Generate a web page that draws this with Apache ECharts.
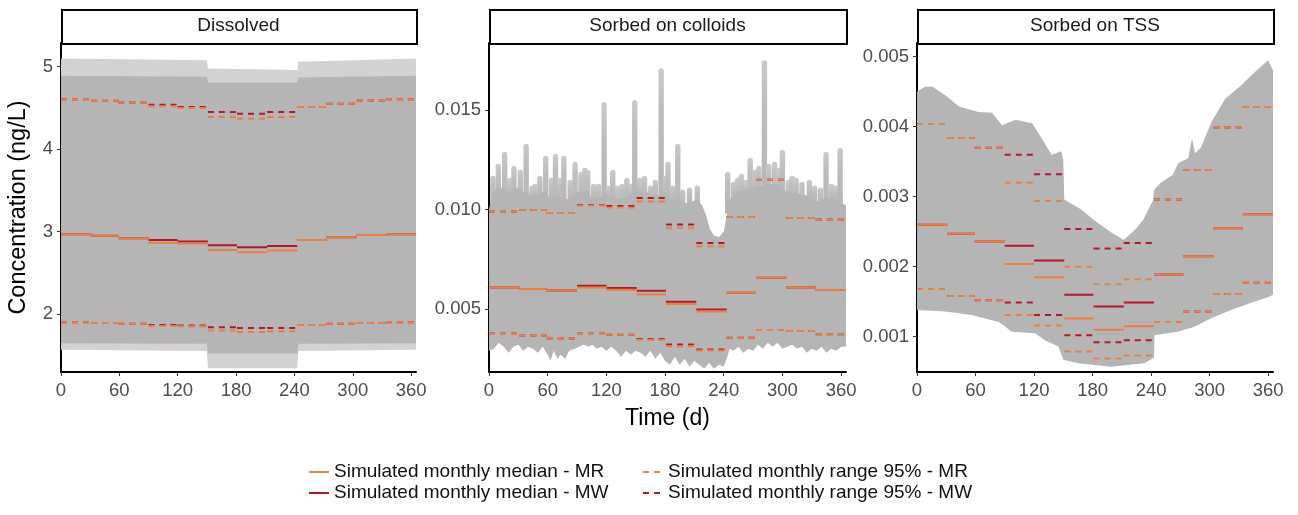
<!DOCTYPE html>
<html>
<head>
<meta charset="utf-8">
<script src="https://cdn.jsdelivr.net/npm/echarts@6/dist/echarts.min.js"></script>
<style>
html,body{margin:0;padding:0;background:#fff;}
#chart{width:1298px;height:515px;}
</style>
</head>
<body>
<div id="chart"></div>
<script>
// ---------- DATA ----------
const panelTitles = ['Dissolved', 'Sorbed on colloids', 'Sorbed on TSS'];
const monthEdges = [0, 31, 59, 90, 120, 151, 181, 212, 243, 273, 304, 334, 365];
const timeTicks = [0, 60, 120, 180, 240, 300, 360];
const disTicks = [2, 3, 4, 5];
const colTicks = [0.005, 0.010, 0.015];
const tssTicks = [0.001, 0.002, 0.003, 0.004, 0.005];

// Dissolved monthly statistics
const disMedMR = [2.967, 2.950, 2.920, 2.865, 2.855, 2.776, 2.750, 2.770, 2.898, 2.930, 2.958, 2.967];
const disMedMW = [2.967, 2.950, 2.920, 2.898, 2.880, 2.833, 2.810, 2.825, 2.898, 2.930, 2.958, 2.967];
const disHiMR = [4.604, 4.588, 4.565, 4.520, 4.500, 4.390, 4.370, 4.390, 4.510, 4.550, 4.590, 4.604];
const disHiMW = [4.604, 4.588, 4.565, 4.540, 4.510, 4.452, 4.430, 4.450, 4.510, 4.550, 4.590, 4.604];
const disLoMR = [1.899, 1.890, 1.880, 1.855, 1.850, 1.800, 1.780, 1.790, 1.866, 1.880, 1.890, 1.900];
const disLoMW = [1.899, 1.890, 1.880, 1.866, 1.860, 1.838, 1.830, 1.830, 1.866, 1.880, 1.890, 1.900];

// Colloid-sorbed monthly statistics
const colMedMR = [0.00608, 0.00600, 0.00593, 0.00608, 0.00597, 0.00573, 0.00525, 0.00488, 0.00582, 0.00657, 0.00608, 0.00595];
const colMedMW = [0.00608, 0.00600, 0.00593, 0.00617, 0.00605, 0.00592, 0.00537, 0.00498, 0.00582, 0.00657, 0.00608, 0.00595];
const colHiMR = [0.00990, 0.00998, 0.00983, 0.01020, 0.01010, 0.01040, 0.00908, 0.00815, 0.00962, 0.01150, 0.00957, 0.00950];
const colHiMW = [0.00990, 0.00998, 0.00983, 0.01022, 0.01017, 0.01058, 0.00925, 0.00832, 0.00962, 0.01150, 0.00957, 0.00950];
const colLoMR = [0.00378, 0.00367, 0.00352, 0.00378, 0.00370, 0.00345, 0.00313, 0.00292, 0.00355, 0.00395, 0.00390, 0.00373];
const colLoMW = [0.00378, 0.00367, 0.00352, 0.00378, 0.00370, 0.00349, 0.00322, 0.00297, 0.00355, 0.00395, 0.00390, 0.00373];

// TSS-sorbed monthly statistics
const tssMedMR = [0.00260, 0.00247, 0.00236, 0.00204, 0.00185, 0.00126, 0.00110, 0.00115, 0.00189, 0.00215, 0.00255, 0.00275];
const tssMedMW = [0.00260, 0.00247, 0.00236, 0.00230, 0.00209, 0.00160, 0.00143, 0.00149, 0.00189, 0.00215, 0.00255, 0.00275];
const tssHiMR = [0.00404, 0.00384, 0.00370, 0.00320, 0.00294, 0.00200, 0.00175, 0.00182, 0.00296, 0.00338, 0.00399, 0.00428];
const tssHiMW = [0.00404, 0.00384, 0.00370, 0.00360, 0.00332, 0.00254, 0.00226, 0.00234, 0.00296, 0.00338, 0.00399, 0.00428];
const tssLoMR = [0.00168, 0.00158, 0.00152, 0.00131, 0.00116, 0.00079, 0.00069, 0.00073, 0.00121, 0.00136, 0.00161, 0.00177];
const tssLoMW = [0.00168, 0.00158, 0.00152, 0.00149, 0.00131, 0.00102, 0.00092, 0.00095, 0.00121, 0.00136, 0.00161, 0.00177];

// Envelopes of all simulated daily series [day, value]
const disOuterUp = [[0, 5.10], [150, 5.08], [151, 4.98], [243, 4.96], [244, 5.06], [365, 5.10]];
const disOuterLo = [[0, 1.565], [150, 1.55], [151, 1.34], [243, 1.34], [244, 1.55], [365, 1.565]];
const disInnerUp = [[0, 4.89], [150, 4.88], [151, 4.81], [243, 4.81], [244, 4.87], [365, 4.89]];
const disInnerLo = [[0, 1.645], [150, 1.64], [151, 1.52], [243, 1.52], [244, 1.64], [365, 1.645]];

const colUp = [[0,0.0100],[3,0.0107],[6,0.0110],[12,0.0111],[20,0.0109],[28,0.0111],[35,0.0109],[42,0.0107],
  [50,0.0108],[56,0.0109],[62,0.0106],[70,0.0107],[80,0.0105],[86,0.0107],[92,0.0109],[100,0.0110],[106,0.0105],
  [112,0.0106],[120,0.0107],[130,0.0105],[138,0.0106],[146,0.0108],[152,0.0109],[160,0.0109],[168,0.0107],
  [178,0.0108],[186,0.0105],[196,0.0104],[204,0.0103],[212,0.0105],[218,0.0102],[222,0.0097],[226,0.0090],
  [230,0.0087],[235,0.0086],[240,0.0089],[243,0.0097],[246,0.0105],[255,0.0109],[262,0.0110],[270,0.0111],
  [278,0.0112],[288,0.0113],[296,0.0112],[304,0.0109],[315,0.0108],[325,0.0107],[335,0.0104],[345,0.0106],
  [355,0.0105],[365,0.0102]];
const colSpikes = [[4,0.0117],[9.5,0.0123],[16,0.0129],[21,0.0116],[25.5,0.0122],[32,0.0120],[38,0.0133],[44,0.0112],[47,0.0113],
  [52,0.0117],[58,0.0127],[64,0.0116],[68,0.0128],[72,0.0116],[76.5,0.0127],[83,0.0115],[88,0.0124],[94,0.0119],
  [98,0.0121],[101,0.0120],[107,0.0113],[112,0.0113],[117.7,0.0154],[122,0.0112],[126.5,0.0120],[131,0.0112],[136,0.0113],[141,0.0116],
  [145,0.0113],[149,0.0155],[154,0.0116],[159,0.0117],[165,0.0112],[170,0.0115],[176,0.0171],[180,0.0117],[183,0.0124],
  [188,0.0112],[193,0.0133],[198,0.0110],[205,0.0111],[213,0.0112],[244,0.0119],[250,0.0114],[254,0.0116],[258,0.0118],
  [263,0.0115],[267,0.0126],[272,0.0120],[276,0.0122],[281.6,0.0175],[286,0.0123],[292,0.0124],[296,0.0121],[300,0.0130],
  [306,0.0115],[310,0.0117],[314,0.0116],[320,0.0114],[327.5,0.0115],[333,0.0112],[339,0.0111],[344.6,0.0129],[350,0.0113],
  [354,0.0112],[359,0.0131]];
const colLo = [[0,0.0029],[5,0.0030],[10,0.0033],[15,0.0031],[20,0.0028],[25,0.0031],[30,0.0032],[35,0.0029],
  [40,0.0031],[45,0.0030],[50,0.0028],[55,0.0031],[60,0.0027],[63,0.0024],[66,0.0029],[70,0.0025],[73,0.0027],
  [78,0.0025],[82,0.0029],[88,0.0030],[92,0.0031],[97,0.0032],[102,0.0031],[106,0.0032],[110,0.0030],[115,0.0031],
  [120,0.0029],[125,0.0031],[130,0.0029],[135,0.0026],[140,0.0029],[145,0.0027],[150,0.0029],[155,0.0028],
  [160,0.0026],[165,0.0029],[170,0.0025],[175,0.0028],[180,0.0024],[185,0.0022],[190,0.0026],[195,0.0022],
  [200,0.0025],[205,0.0021],[210,0.0024],[215,0.0022],[220,0.0020],[225,0.0023],[230,0.0020],[235,0.0022],
  [240,0.0021],[243,0.0025],[246,0.0030],[250,0.0029],[255,0.0031],[260,0.0028],[265,0.0030],[270,0.0029],
  [275,0.0032],[280,0.0030],[285,0.0033],[290,0.0031],[295,0.0033],[300,0.0030],[305,0.0031],[310,0.0032],
  [315,0.0030],[320,0.0031],[325,0.0028],[330,0.0030],[335,0.0029],[340,0.0031],[345,0.0028],[350,0.0030],
  [355,0.0029],[360,0.0031],[365,0.0031]];

const tssUp = [[0,0.00450],[8,0.00457],[16,0.00457],[29,0.00445],[43,0.00429],[63,0.00421],[77,0.00420],[87,0.00402],
  [101,0.00410],[118,0.00405],[128,0.00383],[138,0.00360],[148,0.00365],[150,0.00352],[151,0.00296],[168,0.00282],
  [181,0.00267],[200,0.00248],[212,0.00238],[225,0.00255],[232,0.00267],[242,0.00295],[243,0.00310],[250,0.00320],
  [262,0.00331],[268,0.00348],[278,0.00355],[282,0.00383],[285,0.00362],[291,0.00370],[302,0.00407],[316,0.00440],
  [333,0.00460],[347,0.00479],[360,0.00495],[365,0.00480]];
const tssLo = [[0,0.00138],[29,0.00136],[56,0.00131],[84,0.00121],[91,0.00114],[97,0.00107],[121,0.00105],[131,0.00095],
  [145,0.00086],[150,0.00067],[165,0.00062],[199,0.00057],[233,0.00062],[243,0.00070],[243.5,0.00102],[267,0.00107],
  [284,0.00114],[301,0.00126],[322,0.00138],[342,0.00148],[361,0.00157],[365,0.00160]];

// ---------- STYLE / BUILD ----------
const FONT = '"Liberation Sans", Arial, sans-serif';
const C_MR = '#E8803F', C_MW = '#B2182B';
const GRAY = '#b5b5b5', GRAY_LIGHT = '#d2d2d2';
const N_MED_MR = 'Simulated monthly median - MR';
const N_MED_MW = 'Simulated monthly median - MW';
const N_RNG_MR = 'Simulated monthly range 95% - MR';
const N_RNG_MW = 'Simulated monthly range 95% - MW';

const grids = [
  {left: 61, top: 43, width: 355, height: 329},
  {left: 489, top: 43, width: 357, height: 329},
  {left: 917, top: 43, width: 356, height: 329}
];
const yRanges = [[1.296, 5.288], [0.001834, 0.018367], [0.000496, 0.005196]];
const yTicks = [disTicks, colTicks, tssTicks];
const yFmt = [v => String(v), v => v.toFixed(3), v => v.toFixed(3)];

function segData(vals) {
  const d = [];
  for (let m = 0; m < 12; m++) {
    d.push([monthEdges[m], vals[m]]);
    d.push([monthEdges[m + 1], vals[m]]);
    d.push([monthEdges[m + 1], '-']);
  }
  return d;
}
function segSeries(idx, name, vals, color, dashed) {
  return {
    type: 'line', name: name, xAxisIndex: idx, yAxisIndex: idx, data: segData(vals),
    symbol: 'none', silent: true, animation: false, connectNulls: false, z: 3,
    lineStyle: {color: color, width: 2, type: dashed ? [6, 5] : 'solid'},
    itemStyle: {color: color}
  };
}
function bandSeries(idx, upper, lower, color, z) {
  return {
    type: 'custom', xAxisIndex: idx, yAxisIndex: idx, silent: true, animation: false, z: z, clip: true,
    data: [[upper[0][0], upper[0][1]]],
    renderItem: function (params, api) {
      const pts = upper.concat(lower.slice().reverse()).map(p => api.coord(p));
      return {type: 'polygon', shape: {points: pts}, style: {fill: color}};
    }
  };
}
function spikeSeries(idx, spikes, baseVal) {
  return {
    type: 'custom', xAxisIndex: idx, yAxisIndex: idx, silent: true, animation: false, z: 1, clip: true,
    data: spikes,
    renderItem: function (params, api) {
      const top = api.coord([api.value(0), api.value(1)]);
      const bot = api.coord([api.value(0), baseVal]);
      const w = Math.max(4, api.size([5.5, 0])[0]);
      return {
        type: 'rect',
        shape: {x: top[0] - w / 2, y: top[1], width: w, height: bot[1] - top[1], r: [w / 2, w / 2, 0, 0]},
        style: {fill: new echarts.graphic.LinearGradient(0, 0, 0, 1, [
          {offset: 0, color: '#cacaca'}, {offset: 0.3, color: '#bdbdbd'}, {offset: 1, color: GRAY}])}
      };
    }
  };
}

const xAxes = grids.map((g, i) => ({
  type: 'value', gridIndex: i, min: 0, max: 365,
  name: i === 1 ? 'Time (d)' : '', nameLocation: 'middle', nameGap: 35,
  nameTextStyle: {fontSize: 23, color: '#000', fontFamily: FONT},
  axisLine: {show: true, onZero: false, lineStyle: {color: '#000', width: 2}},
  axisTick: {show: true, length: 4, customValues: timeTicks, lineStyle: {color: '#333', width: 1}},
  axisLabel: {customValues: timeTicks, fontSize: 18.5, color: '#4d4d4d', fontFamily: FONT, margin: 9},
  splitLine: {show: false}
}));
const yAxes = grids.map((g, i) => ({
  type: 'value', gridIndex: i, min: yRanges[i][0], max: yRanges[i][1],
  name: i === 0 ? 'Concentration (ng/L)' : '', nameLocation: 'middle', nameGap: 30,
  nameTextStyle: {fontSize: 23.5, color: '#000', fontFamily: FONT},
  axisLine: {show: true, onZero: false, lineStyle: {color: '#000', width: 2}},
  axisTick: {show: true, length: 4, customValues: yTicks[i], lineStyle: {color: '#333', width: 1}},
  axisLabel: {customValues: yTicks[i], formatter: yFmt[i], fontSize: 18.5, color: '#4d4d4d', fontFamily: FONT, margin: 8},
  splitLine: {show: false}
}));

const stats = [
  [disMedMR, disMedMW, disHiMR, disHiMW, disLoMR, disLoMW],
  [colMedMR, colMedMW, colHiMR, colHiMW, colLoMR, colLoMW],
  [tssMedMR, tssMedMW, tssHiMR, tssHiMW, tssLoMR, tssLoMW]
];

const series = [
  bandSeries(0, disOuterUp, disOuterLo, GRAY_LIGHT, 1),
  bandSeries(0, disInnerUp, disInnerLo, GRAY, 1),
  spikeSeries(1, colSpikes, 0.0098),
  bandSeries(1, colUp, colLo, GRAY, 1),
  bandSeries(2, tssUp, tssLo, GRAY, 1)
];
stats.forEach((s, i) => {
  series.push(segSeries(i, N_MED_MW, s[1], C_MW, false));
  series.push(segSeries(i, N_RNG_MW, s[3], C_MW, true));
  series.push(segSeries(i, N_RNG_MW, s[5], C_MW, true));
  series.push(segSeries(i, N_MED_MR, s[0], C_MR, false));
  series.push(segSeries(i, N_RNG_MR, s[2], C_MR, true));
  series.push(segSeries(i, N_RNG_MR, s[4], C_MR, true));
});

const graphics = [];
grids.forEach((g, i) => {
  graphics.push({type: 'rect', left: g.left, top: 9, z: 10,
    shape: {width: g.width, height: 34},
    style: {fill: '#fff', stroke: '#000', lineWidth: 2}});
  graphics.push({type: 'text', x: g.left + g.width / 2, y: 26, z: 11,
    style: {text: panelTitles[i], fill: '#1a1a1a', font: '19px ' + FONT, textAlign: 'center', textVerticalAlign: 'middle'}});
});

const legendCommon = {
  orient: 'vertical', itemWidth: 20, itemHeight: 10, itemGap: 0, padding: 0, selectedMode: false,
  itemStyle: {opacity: 0, borderWidth: 0},
  textStyle: {fontSize: 19, lineHeight: 21, color: '#111', fontFamily: FONT}
};

const chart = echarts.init(document.getElementById('chart'), null, {renderer: 'canvas'});
chart.setOption({
  animation: false,
  backgroundColor: '#fff',
  grid: grids,
  xAxis: xAxes,
  yAxis: yAxes,
  legend: [
    Object.assign({}, legendCommon, {left: 308, top: 461.5, data: [N_MED_MR, N_MED_MW]}),
    Object.assign({}, legendCommon, {left: 642, top: 461.5, data: [N_RNG_MR, N_RNG_MW]})
  ],
  graphic: graphics,
  series: series
});
</script>
</body>
</html>
